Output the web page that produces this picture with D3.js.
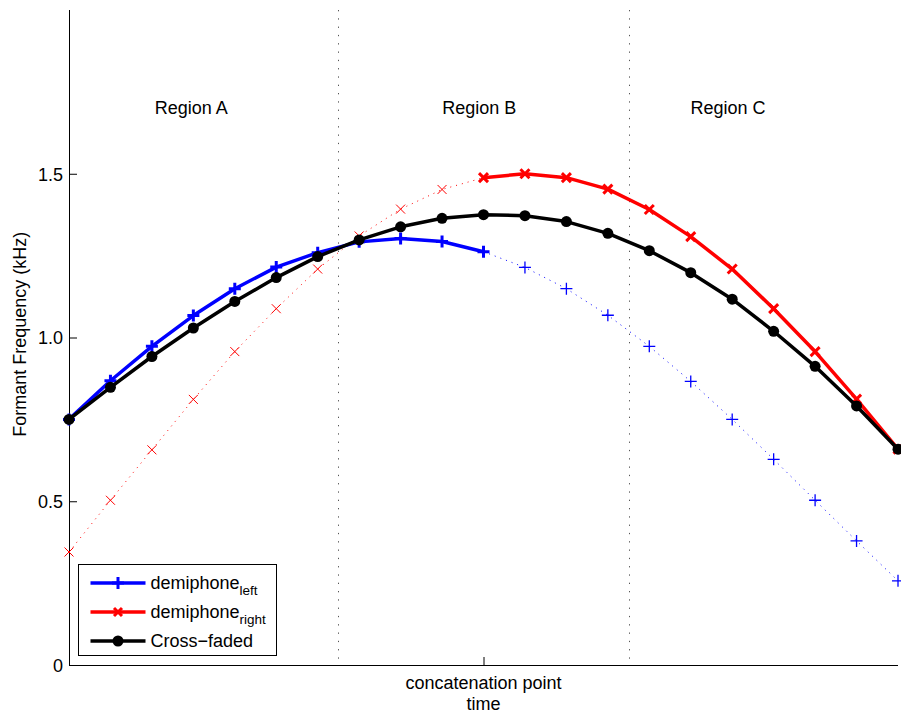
<!DOCTYPE html>
<html>
<head>
<meta charset="utf-8">
<script src="https://cdn.jsdelivr.net/npm/d3@7"></script>
<style>
  body { margin: 0; background: #fff; }
  svg { display: block; font-family: "Liberation Sans", Arial, Helvetica, sans-serif; }
</style>
</head>
<body>
<svg id="chart"></svg>
<script>
// frame index 0..20, concatenation at 10
const frames = d3.range(0, 21);
const leftValues  = [0.750, 0.868, 0.973, 1.067, 1.149, 1.215, 1.259, 1.292, 1.302, 1.293, 1.262,
                     1.214, 1.149, 1.068, 0.973, 0.866, 0.750, 0.628, 0.503, 0.379, 0.257];
const rightValues = [0.345, 0.503, 0.657, 0.811, 0.957, 1.088, 1.209, 1.310, 1.392, 1.452, 1.488,
                     1.500, 1.488, 1.453, 1.391, 1.308, 1.209, 1.088, 0.957, 0.812, 0.659];
const fadedValues = [0.750, 0.848, 0.942, 1.029, 1.110, 1.183, 1.247, 1.298, 1.338, 1.364, 1.375,
                     1.372, 1.354, 1.318, 1.265, 1.198, 1.117, 1.019, 0.912, 0.791, 0.659];
const yTicks = [0, 0.5, 1.0, 1.5];
const concatPoint = 10;
const regionBounds = [6.5, 13.5];
const regionNames = ["Region A", "Region B", "Region C"];
const regionCenters = [2.95, 9.9, 15.9];

const width = 901, height = 718;
const margin = {top: 10, right: 3, bottom: 53, left: 69};
const fontSize = "18px";

const svg = d3.select("#chart").attr("width", width).attr("height", height);

const x = d3.scaleLinear().domain([0, 20]).range([margin.left, width - margin.right]);
const y = d3.scaleLinear().domain([0, 2]).range([height - margin.bottom, margin.top]);

// region separators
svg.selectAll(".sep")
    .data(regionBounds)
    .enter().append("line")
    .attr("class", "sep")
    .attr("x1", d => Math.round(x(d)) + 0.5).attr("x2", d => Math.round(x(d)) + 0.5)
    .attr("y1", y(2)).attr("y2", y(0))
    .attr("stroke", "#555")
    .attr("stroke-width", 1)
    .attr("stroke-dasharray", "1.3,7");

svg.selectAll(".region")
    .data(regionNames)
    .enter().append("text")
    .attr("class", "region")
    .attr("x", (d, i) => x(regionCenters[i]))
    .attr("y", 114)
    .attr("text-anchor", "middle")
    .style("font-size", fontSize)
    .text(d => d);

// axes
const yAxis = svg.append("g")
    .attr("transform", "translate(" + margin.left + ",0)")
    .call(d3.axisRight(y).tickValues(yTicks).tickSize(8).tickFormat(d => d === 0 ? "0" : d3.format(".1f")(d)));
yAxis.select(".domain").attr("d", "M0.5," + y(2) + "V" + y(0));
yAxis.selectAll("text")
    .attr("x", -6).attr("dy", "0.35em")
    .attr("text-anchor", "end")
    .style("font-size", fontSize)
    .style("font-family", "Liberation Sans, Arial, sans-serif");

const xAxis = svg.append("g")
    .attr("transform", "translate(0," + y(0) + ")")
    .call(d3.axisTop(x).tickValues([concatPoint]).tickSize(8).tickFormat(() => ""));
xAxis.select(".domain").attr("d", "M" + x(0) + ",0.5H" + x(20));

svg.append("text")
    .attr("x", x(concatPoint)).attr("y", 689)
    .attr("text-anchor", "middle")
    .style("font-size", fontSize)
    .text("concatenation point");

svg.append("text")
    .attr("x", x(concatPoint)).attr("y", 710)
    .attr("text-anchor", "middle")
    .style("font-size", fontSize)
    .text("time");

svg.append("text")
    .attr("transform", "translate(26," + y(1.01) + ") rotate(-90)")
    .attr("text-anchor", "middle")
    .style("font-size", fontSize)
    .text("Formant Frequency (kHz)");

// helpers
const line = d3.line().x(d => x(d[0])).y(d => y(d[1]));
function pts(vals, from, to) {
    return frames.filter(f => f >= from && f <= to).map(f => [f, vals[f]]);
}
function plus(g, cx, cy, s, w, color) {
    g.append("path")
        .attr("d", "M" + (cx - s) + "," + cy + "H" + (cx + s) + "M" + cx + "," + (cy - s) + "V" + (cy + s))
        .attr("stroke", color).attr("stroke-width", w).attr("fill", "none");
}
function cross(g, cx, cy, s, w, color) {
    g.append("path")
        .attr("d", "M" + (cx - s) + "," + (cy - s) + "L" + (cx + s) + "," + (cy + s) +
                   "M" + (cx - s) + "," + (cy + s) + "L" + (cx + s) + "," + (cy - s))
        .attr("stroke", color).attr("stroke-width", w).attr("fill", "none");
}

const plot = svg.append("g");

// dotted continuations
plot.append("path").datum(pts(rightValues, 0, concatPoint))
    .attr("d", line).attr("fill", "none")
    .attr("stroke", "#ff0000").attr("stroke-width", 1).attr("stroke-dasharray", "1,5");
plot.append("path").datum(pts(leftValues, concatPoint, 20))
    .attr("d", line).attr("fill", "none")
    .attr("stroke", "#0000ff").attr("stroke-width", 1).attr("stroke-dasharray", "1,5");
pts(rightValues, 0, concatPoint - 1).forEach(d => cross(plot, x(d[0]), y(d[1]), 4.5, 1, "#ff0000"));
pts(leftValues, concatPoint + 1, 20).forEach(d => plus(plot, x(d[0]), y(d[1]), 6, 1.3, "#0000ff"));

// solid parts
plot.append("path").datum(pts(leftValues, 0, concatPoint))
    .attr("d", line).attr("fill", "none")
    .attr("stroke", "#0000ff").attr("stroke-width", 3.5).attr("stroke-linejoin", "round");
pts(leftValues, 0, concatPoint).forEach(d => plus(plot, x(d[0]), y(d[1]), 6, 3, "#0000ff"));

plot.append("path").datum(pts(rightValues, concatPoint, 20))
    .attr("d", line).attr("fill", "none")
    .attr("stroke", "#ff0000").attr("stroke-width", 3.5).attr("stroke-linejoin", "round");
pts(rightValues, concatPoint, 20).forEach(d => cross(plot, x(d[0]), y(d[1]), 4.5, 3, "#ff0000"));

plot.append("path").datum(pts(fadedValues, 0, 20))
    .attr("d", line).attr("fill", "none")
    .attr("stroke", "#000").attr("stroke-width", 3.5).attr("stroke-linejoin", "round");
plot.selectAll(".dot").data(pts(fadedValues, 0, 20))
    .enter().append("circle")
    .attr("class", "dot")
    .attr("cx", d => x(d[0])).attr("cy", d => y(d[1]))
    .attr("r", 5.5).attr("fill", "#000");

// legend
const legendItems = [
    {name: "demiphone", sub: "left", color: "#0000ff", marker: "plus"},
    {name: "demiphone", sub: "right", color: "#ff0000", marker: "cross"},
    {name: "Cross\u2212faded", sub: "", color: "#000", marker: "dot"}
];
const legend = svg.append("g").attr("transform", "translate(78.5,564.5)");
legend.append("rect")
    .attr("width", 198).attr("height", 91)
    .attr("fill", "#fff").attr("stroke", "#000").attr("stroke-width", 1);
legendItems.forEach((item, i) => {
    const ly = 18.5 + i * 29;
    legend.append("line")
        .attr("x1", 12).attr("x2", 67).attr("y1", ly).attr("y2", ly)
        .attr("stroke", item.color).attr("stroke-width", 3.5);
    if (item.marker === "plus") plus(legend, 39.5, ly, 6, 3, item.color);
    else if (item.marker === "cross") cross(legend, 39.5, ly, 4, 3, item.color);
    else legend.append("circle").attr("cx", 39.5).attr("cy", ly).attr("r", 5.5).attr("fill", item.color);
    const t = legend.append("text")
        .attr("x", 72).attr("y", ly + 6)
        .style("font-size", fontSize)
        .text(item.name);
    if (item.sub) {
        t.append("tspan").attr("dy", 6).style("font-size", "13.5px").text(item.sub);
    }
});
</script>
</body>
</html>
